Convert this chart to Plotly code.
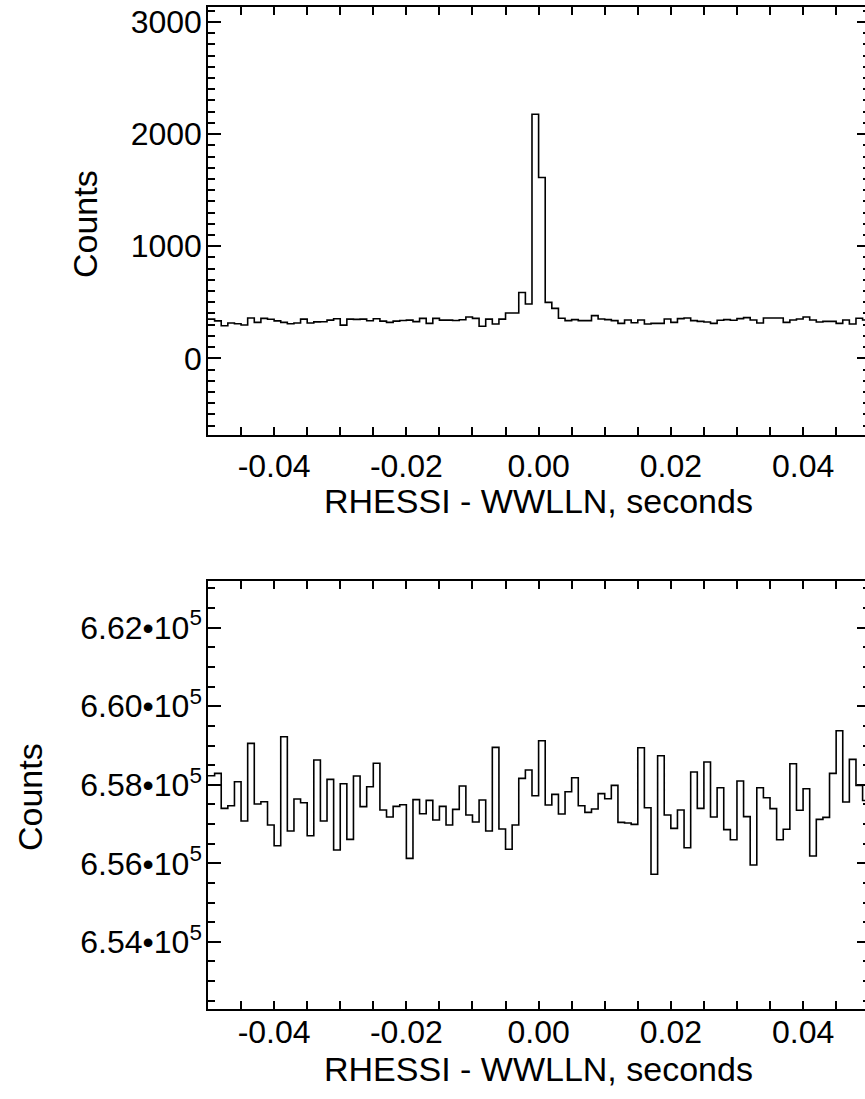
import plotly.graph_objects as go

# ---------------- data ----------------
bin_width = 0.001
bin_start = -0.05

top_counts = [
    350, 334, 291, 315, 309, 297, 360, 321, 356, 348,
    334, 321, 309, 315, 350, 315, 325, 326, 341, 353,
    296, 350, 347, 350, 335, 353, 332, 321, 332, 338,
    341, 327, 356, 312, 356, 341, 341, 338, 344, 368,
    356, 286, 350, 306, 350, 404, 404, 587, 484, 2177,
    1613, 499, 446, 357, 336, 345, 336, 336, 381, 351,
    345, 336, 312, 342, 318, 342, 306, 312, 312, 351,
    321, 354, 360, 336, 330, 324, 312, 339, 345, 339,
    354, 363, 342, 315, 360, 360, 360, 321, 342, 351,
    369, 342, 324, 330, 330, 312, 342, 306, 357, 342,
]

bottom_counts = [
    658231, 658292, 657400, 657468, 658079, 657077, 659055, 657510, 657570, 656976,
    656449, 659225, 656823, 657638, 657544, 656704, 658631, 657077, 658139, 656340,
    658027, 656611, 658223, 657443, 657951, 658547, 657358, 657179, 657451, 657493,
    656127, 657621, 657264, 657604, 657103, 657451, 656976, 657375, 657968, 657231,
    657052, 657612, 656823, 658953, 656874, 656357, 656976, 658164, 658376, 657722,
    659123, 657485, 657757, 657256, 657824, 658181, 657468, 657298, 657384, 657774,
    657646, 657985, 657044, 657027, 656993, 658945, 657417, 655720, 658741, 657231,
    656891, 657358, 656398, 658325, 657400, 658580, 657179, 657926, 656857, 656602,
    658096, 657188, 655958, 657926, 657671, 657392, 656602, 656866, 658537, 657350,
    657900, 656186, 657120, 657171, 658292, 659377, 657562, 658648, 657985, 657600,
]

x_tick_vals = [-0.04, -0.02, 0.0, 0.02, 0.04]
x_tick_text = ["-0.04", "-0.02", "0.00", "0.02", "0.04"]
top_y_vals = [0, 1000, 2000, 3000]
top_y_text = ["0", "1000", "2000", "3000"]
bottom_y_vals = [654000, 656000, 658000, 660000, 662000]
bottom_y_text = ["6.54\u202210<sup>5</sup>", "6.56\u202210<sup>5</sup>",
                 "6.58\u202210<sup>5</sup>", "6.60\u202210<sup>5</sup>",
                 "6.62\u202210<sup>5</sup>"]
x_title = "RHESSI - WWLLN, seconds"
y_title = "Counts"

# ---------------- figure ----------------
W, H = 865, 1099
FONT = "Liberation Sans, Arial, Helvetica, sans-serif"
TICK_SIZE = 32
TITLE_SIZE = 34

edges = [bin_start + bin_width * i for i in range(len(top_counts) + 1)]


def step_y(vals):
    return list(vals) + [vals[-1]]


fig = go.Figure()
fig.add_trace(go.Scatter(x=edges, y=step_y(top_counts), mode="lines",
                         line=dict(shape="hv", color="black", width=1.6),
                         xaxis="x", yaxis="y", showlegend=False, hoverinfo="skip"))
fig.add_trace(go.Scatter(x=edges, y=step_y(bottom_counts), mode="lines",
                         line=dict(shape="hv", color="black", width=1.6),
                         xaxis="x2", yaxis="y2", showlegend=False, hoverinfo="skip"))
# invisible helpers so the right-hand tick-only axes are drawn
fig.add_trace(go.Scatter(x=edges, y=step_y(top_counts), mode="lines", opacity=0,
                         xaxis="x", yaxis="y3", showlegend=False, hoverinfo="skip"))
fig.add_trace(go.Scatter(x=edges, y=step_y(bottom_counts), mode="lines", opacity=0,
                         xaxis="x2", yaxis="y4", showlegend=False, hoverinfo="skip"))

x_left_px = 208
x_right_px = 865
x_scale = 6612.0  # px per second
x_max = bin_start + (x_right_px - x_left_px) / x_scale
x_dom = [x_left_px / W, 1.0]

top_px = (7, 435)
bot_px = (581, 1009)


def ydom(p):
    return [1 - p[1] / H, 1 - p[0] / H]


top_range = [-684, 3134]
bot_range = [652290, 663190]


def xaxis_cfg(anchor, standoff):
    return dict(anchor=anchor, range=[bin_start, x_max], tickmode="array",
                tickvals=x_tick_vals, ticktext=x_tick_text, ticks="inside",
                ticklen=8, tickwidth=1.5, tickcolor="black", showline=True,
                linewidth=1.5, linecolor="black", mirror="allticks",
                showgrid=False, zeroline=False,
                minor=dict(tick0=0, dtick=0.005, ticks="inside", ticklen=4,
                           tickwidth=1.5, tickcolor="black", showgrid=False),
                tickfont=dict(family=FONT, size=TICK_SIZE, color="black"),
                ticklabelstandoff=standoff, automargin=False, domain=x_dom)


yleft = dict(ticks="inside", ticklen=13, tickwidth=1.5, tickcolor="black",
             showline=True, linewidth=1.5, linecolor="black", showgrid=False,
             zeroline=False, tickmode="array", automargin=False,
             tickfont=dict(family=FONT, size=TICK_SIZE, color="black"),
             ticklabelstandoff=-2)

yright = dict(side="right", ticks="inside", ticklen=8, tickwidth=1.5,
              tickcolor="black", showline=False, showgrid=False, zeroline=False,
              showticklabels=False, automargin=False)

fig.update_layout(
    width=W, height=H,
    margin=dict(l=0, r=0, t=0, b=0),
    paper_bgcolor="white", plot_bgcolor="white",
    xaxis=xaxis_cfg("y", 2),
    xaxis2=xaxis_cfg("y2", -6),
    yaxis=dict(anchor="x", domain=ydom(top_px), range=top_range,
               tickvals=top_y_vals, ticktext=top_y_text,
               minor=dict(tick0=0, dtick=100, ticks="inside", ticklen=7,
                          tickwidth=1.5, tickcolor="black", showgrid=False),
               **yleft),
    yaxis2=dict(anchor="x2", domain=ydom(bot_px), range=bot_range,
                tickvals=bottom_y_vals, ticktext=bottom_y_text,
                minor=dict(tick0=0, dtick=500, ticks="inside", ticklen=7,
                           tickwidth=1.5, tickcolor="black", showgrid=False),
                **yleft),
    yaxis3=dict(anchor="x", overlaying="y", range=top_range,
                tickmode="array", tickvals=top_y_vals,
                minor=dict(tick0=0, dtick=100, ticks="inside", ticklen=2,
                           tickwidth=1.5, tickcolor="black", showgrid=False),
                **yright),
    yaxis4=dict(anchor="x2", overlaying="y2", range=bot_range,
                tickmode="array", tickvals=bottom_y_vals,
                minor=dict(tick0=0, dtick=500, ticks="inside", ticklen=2,
                           tickwidth=1.5, tickcolor="black", showgrid=False),
                **yright),
)

annos = [
    dict(text=y_title, x=85 / W, y=1 - 224 / H, textangle=-90),
    dict(text=y_title, x=30 / W, y=1 - 797 / H, textangle=-90),
    dict(text=x_title, x=538 / W, y=1 - 501 / H, textangle=0),
    dict(text=x_title, x=538 / W, y=1 - 1069 / H, textangle=0),
]
for a in annos:
    fig.add_annotation(xref="paper", yref="paper", showarrow=False,
                       xanchor="center", yanchor="middle",
                       font=dict(family=FONT, size=TITLE_SIZE, color="black"), **a)

fig.write_html("out.html")
